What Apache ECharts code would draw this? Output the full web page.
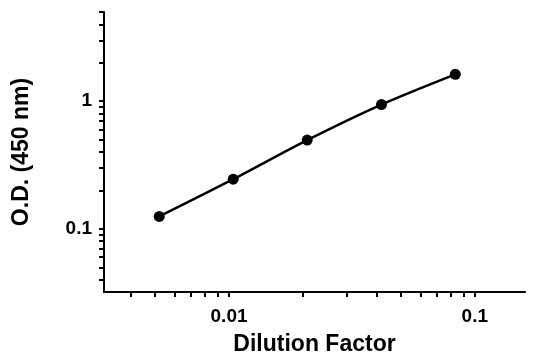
<!DOCTYPE html>
<html>
<head>
<meta charset="utf-8">
<script src="https://cdn.jsdelivr.net/npm/echarts@6/dist/echarts.min.js"></script>
<style>html,body{margin:0;padding:0;background:#fff;}#c{width:541px;height:362px;}</style>
</head>
<body>
<div id="c"></div>
<script>
// Data
const dilution = [0.0052, 0.0104, 0.0208, 0.0417, 0.0833];
const od = [0.125, 0.245, 0.496, 0.942, 1.625];
const xTickValues = [0.004,0.005,0.006,0.007,0.008,0.009,0.01,0.02,0.03,0.04,0.05,0.06,0.07,0.08,0.09,0.1];
const xLabelValues = [0.01, 0.1];
const yTickValues = [0.04,0.05,0.06,0.07,0.08,0.09,0.1,0.2,0.3,0.4,0.5,0.6,0.7,0.8,0.9,1,2,3,4,5];
const yLabelValues = [0.1, 1];
const xTitle = 'Dilution Factor';
const yTitle = 'O.D. (450 nm)';

const font = '"Liberation Sans", Arial, sans-serif';
const chart = echarts.init(document.getElementById('c'), null, {renderer: 'canvas'});
chart.setOption({
  backgroundColor: '#fff',
  animation: false,
  grid: {left: 104, right: 16, top: 12, bottom: 70, containLabel: false, outerBoundsMode: 'none'},
  xAxis: {
    type: 'log', logBase: 10, min: 0.0031, max: 0.16,
    name: xTitle, nameLocation: 'middle', nameGap: 41,
    nameTextStyle: {fontFamily: font, fontWeight: 'bold', fontSize: 23, color: '#000'},
    axisLine: {show: true, onZero: false, lineStyle: {color: '#000', width: 2}},
    axisTick: {show: true, inside: false, length: 5, customValues: xTickValues, lineStyle: {color: '#000', width: 2}},
    axisLabel: {customValues: xLabelValues, margin: 15, fontFamily: font, fontWeight: 'bold', fontSize: 19, color: '#000',
      formatter: v => String(+v.toPrecision(3))},
    splitLine: {show: false}, minorTick: {show: false}
  },
  yAxis: {
    type: 'log', logBase: 10, min: 0.032, max: 5,
    name: yTitle, nameLocation: 'middle', nameGap: 71, nameRotate: 90,
    nameTextStyle: {fontFamily: font, fontWeight: 'bold', fontSize: 23, color: '#000'},
    axisLine: {show: true, onZero: false, lineStyle: {color: '#000', width: 2}},
    axisTick: {show: true, inside: false, length: 5, customValues: yTickValues, lineStyle: {color: '#000', width: 2}},
    axisLabel: {customValues: yLabelValues, margin: 12, fontFamily: font, fontWeight: 'bold', fontSize: 19, color: '#000',
      formatter: v => String(+v.toPrecision(3))},
    splitLine: {show: false}, minorTick: {show: false}
  },
  series: [{
    type: 'line',
    data: dilution.map((d, i) => [d, od[i]]),
    smooth: 0.3,
    symbol: 'circle', symbolSize: 11,
    itemStyle: {color: '#000'},
    lineStyle: {color: '#000', width: 2.5}
  }]
});
</script>
</body>
</html>
